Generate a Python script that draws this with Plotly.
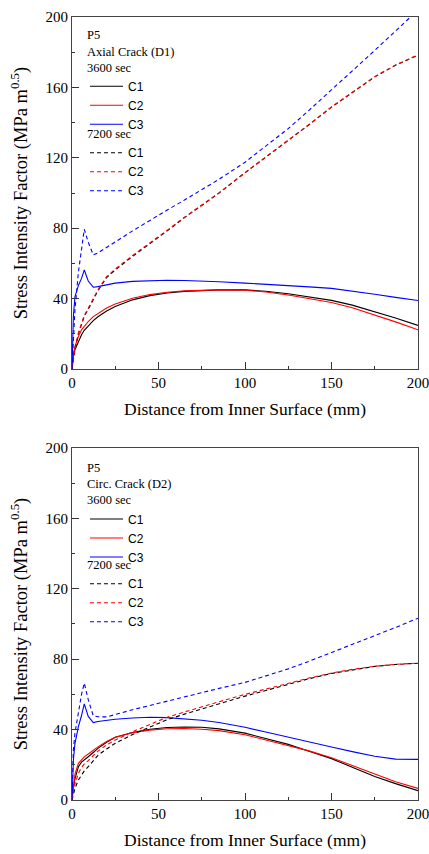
import plotly.graph_objects as go

# distance from inner surface (mm)
X = [0, 0.8, 1.7, 3.7, 5.5, 7.1, 9.4, 12.3, 15, 20, 25, 35, 45, 55, 65, 75, 85,
     100, 112, 125, 137, 150, 162, 175, 187, 200]

# ---- Top panel: Axial Crack (D1) ----
top_3600_C1 = [0, 7, 11, 16, 19.5, 22, 24.5, 27.5, 29.7, 33, 35.5, 39.3, 41.7, 43.2, 44.1, 44.7, 45,
               45, 44.2, 42.8, 41.1, 39, 36.3, 32.6, 29, 24.8]
top_3600_C2 = [0, 8.5, 12.8, 18.5, 22.3, 24.5, 27, 29.8, 31.7, 34.7, 37, 40.2, 42.3, 43.6, 44.4, 44.8, 45,
               44.8, 43.8, 42.1, 40.1, 37.8, 34.8, 30.8, 26.8, 22.3]
top_3600_C3 = [0, 30, 41, 47.5, 51.5, 56.3, 50, 46.5, 46.8, 48, 48.8, 49.8, 50.3, 50.4, 50.3, 50, 49.6,
               48.8, 48.2, 47.5, 46.7, 45.8, 44.3, 42.5, 40.7, 38.9]
top_7200_C1 = [0, 6, 11, 20, 25.5, 30, 34, 39.5, 44.5, 52, 56.3, 64, 71, 78.5, 86, 93, 100,
               111.5, 120.3, 129.8, 138.8, 148.8, 157.3, 166, 172.6, 178.3]
top_7200_C2 = [0, 6.5, 11.5, 20.6, 26, 30.5, 34.6, 40, 45, 52.5, 56.8, 64.5, 71.5, 78.8, 86.2, 93.1, 100.1,
               111.6, 120.4, 129.9, 138.9, 148.9, 157.4, 166.1, 172.7, 178.5]
top_7200_C3 = [0, 15, 33.6, 55, 68, 79.4, 72, 64.8, 66, 69, 72.2, 78.5, 84.5, 90.3, 96, 101.8, 107.8,
               117.5, 126.5, 136.6, 147, 158.5, 169.3, 181, 192, 204]

# ---- Bottom panel: Circ. Crack (D2) ----
bot_3600_C1 = [0, 7.6, 12, 18.9, 21.5, 23, 24.6, 27, 29.3, 32.8, 35.7, 38.4, 40.2, 41.2, 41.5, 41.3, 40.4,
               38, 35, 31.6, 27.7, 23.5, 18.6, 13.4, 9.3, 5.3]
bot_3600_C2 = [0, 9, 14.5, 20.8, 23, 24.5, 26.1, 28.4, 30.2, 33.2, 35.7, 38.2, 39.7, 40.5, 40.6, 40.2, 39.4,
               37.1, 34.2, 31.1, 27.9, 24, 19.6, 14.5, 10.4, 6.6]
bot_3600_C3 = [0, 22.7, 32, 41.7, 48, 54.6, 47.5, 44, 44.6, 45.3, 45.9, 46.6, 47, 46.8, 46.2, 45.3, 44,
               41.3, 38.6, 35.6, 32.8, 30.1, 27.5, 24.9, 23.2, 23.1]
bot_7200_C1 = [0, 4, 6.5, 11.4, 14.5, 16.5, 18.9, 22.5, 25.4, 29, 32.2, 37.2, 41.5, 45.6, 48.8, 51.8, 54.6,
               59, 62.2, 65.8, 68.9, 71.9, 74, 75.9, 77, 77.7]
bot_7200_C2 = [0, 6, 9, 15.2, 18.5, 20.5, 22.4, 25.5, 27.8, 31.3, 34.1, 38.8, 43, 47, 50, 53, 55.8,
               60, 63, 66.5, 69.3, 72.1, 74.2, 76, 77.1, 77.8]
bot_7200_C3 = [0, 28.4, 38, 51, 60, 66.4, 57, 47.8, 47.3, 47.2, 48.6, 51.3, 53.7, 56.2, 58.5, 61, 63.4,
               66.8, 70.3, 74.5, 78.8, 83.8, 88.3, 93.2, 98, 103.3]

SERIES = ["C1", "C2", "C3"]
COLORS = {"C1": "#000000", "C2": "#ff0000", "C3": "#0000ff"}
X_TICKS = [0, 50, 100, 150, 200]
Y_TICKS = [0, 40, 80, 120, 160, 200]

SERIF = "Liberation Serif, Times New Roman, serif"
SANS = "Liberation Sans, Arial, sans-serif"

fig = go.Figure()

panels = [
    ("x", "y", [("legend", "P5<br>Axial Crack (D1)<br>3600 sec", "solid",
                 [top_3600_C1, top_3600_C2, top_3600_C3]),
                ("legend2", "7200 sec", "4px,3px",
                 [top_7200_C1, top_7200_C2, top_7200_C3])]),
    ("x2", "y2", [("legend3", "P5<br>Circ. Crack (D2)<br>3600 sec", "solid",
                   [bot_3600_C1, bot_3600_C2, bot_3600_C3]),
                  ("legend4", "7200 sec", "4px,3px",
                   [bot_7200_C1, bot_7200_C2, bot_7200_C3])]),
]

for xa, ya, groups in panels:
    for lg, _title, dash, vals in groups:
        for s, v in zip(SERIES, vals):
            fig.add_trace(go.Scatter(
                x=X, y=v, mode="lines", name=s,
                line=dict(color=COLORS[s], width=1.1, dash=dash),
                xaxis=xa, yaxis=ya, legend=lg,
                hoverinfo="skip",
            ))

axis_common = dict(
    showline=True, linecolor="#444", linewidth=1, mirror=True,
    ticks="inside", ticklen=7, tickwidth=1, tickcolor="#333",
    showgrid=False, zeroline=False, automargin=False,
    tickfont=dict(family=SERIF, size=15, color="#000"),
    ticklabeloverflow="allow",
)

xa_common = dict(axis_common, range=[0, 200], tickvals=X_TICKS,
                 minor=dict(ticks="inside", ticklen=3, tickcolor="#333", dtick=25, tick0=0),
                 title=dict(text="Distance from Inner Surface (mm)",
                            font=dict(family=SERIF, size=17.5, color="#000"), standoff=12))
ya_common = dict(axis_common, range=[0, 200], tickvals=Y_TICKS,
                 minor=dict(ticks="inside", ticklen=3, tickcolor="#333", dtick=20, tick0=0),
                 title=dict(text="Stress Intensity Factor (MPa m<sup>0.5</sup>)",
                            font=dict(family=SERIF, size=18.5, color="#000"), standoff=13))


def legend_spec(x, y, title):
    return dict(
        x=x, y=y, xanchor="left", yanchor="top", bgcolor="rgba(0,0,0,0)", borderwidth=0,
        font=dict(family=SANS, size=12, color="#000"), tracegroupgap=0, itemwidth=33,
        title=dict(text=title, side="top", font=dict(family=SERIF, size=12.5, color="#000")),
    )


LX = 0.0376
fig.update_layout(
    width=429, height=854,
    margin=dict(l=72, r=11, t=17, b=54),
    paper_bgcolor="white", plot_bgcolor="white",
    font=dict(family=SERIF, size=15, color="#000"),
    showlegend=True,
    xaxis=dict(xa_common, domain=[0, 1], anchor="y"),
    yaxis=dict(ya_common, domain=[0.5504, 1], anchor="x"),
    xaxis2=dict(xa_common, domain=[0, 1], anchor="y2"),
    yaxis2=dict(ya_common, domain=[0, 0.4496], anchor="x2"),
    legend=legend_spec(LX, 0.9923, panels[0][2][0][1]),
    legend2=legend_spec(LX, 0.8659, panels[0][2][1][1]),
    legend3=legend_spec(LX, 0.4397, panels[1][2][0][1]),
    legend4=legend_spec(LX, 0.3155, panels[1][2][1][1]),
)

fig.write_html("out.html")
